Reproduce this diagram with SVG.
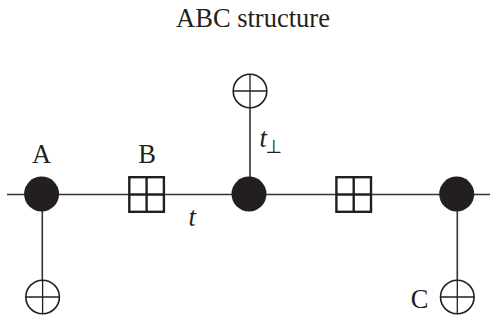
<svg xmlns="http://www.w3.org/2000/svg" width="490" height="321" viewBox="0 0 490 321">
<style>
text{font-family:"Liberation Serif","Times New Roman",serif;font-size:26.5px;fill:#231f20}
.it{font-style:italic}
.perp{font-family:"DejaVu Sans",sans-serif;font-size:19px}
.wire{stroke:#333;stroke-width:1.6;fill:none}
.dot{fill:#231f20}
.sq{fill:#fff;stroke:#231f20;stroke-width:2.4}
.sl{stroke:#231f20;stroke-width:2.4}
.cr{fill:#fff;stroke:#231f20;stroke-width:1.6}
.cl{stroke:#231f20;stroke-width:1.3}
</style>
<rect width="490" height="321" fill="#fff"/>
<defs>
<g id="oplus"><circle class="cr" r="16.8"/><path class="cl" d="M-16.8 0H16.8M0-16.8V16.8"/></g>
<g id="grid"><rect class="sq" x="-17.3" y="-17.3" width="34.6" height="34.6"/><path class="sl" d="M-17.3 0H17.3M0-17.3V17.3"/></g>
</defs>
<text x="253" y="27" text-anchor="middle">ABC structure</text>
<g id="connectors">
<path class="wire" d="M7 194.500H490M42.300 194.500V297M250 91V194.500M457.300 194.500V297"/>
</g>
<g id="node-a"><circle class="dot" cx="41.600" cy="194" r="17.500"/><text x="41.500" y="163" text-anchor="middle">A</text></g>
<g id="node-b"><use href="#grid" x="146.600" y="194.500"/><text x="147" y="163" text-anchor="middle">B</text></g>
<g id="node-mid"><circle class="dot" cx="249" cy="194" r="17.500"/></g>
<g id="node-b2"><use href="#grid" x="353.700" y="194.500"/></g>
<g id="node-right"><circle class="dot" cx="456.700" cy="194" r="17.500"/></g>
<g id="node-x1"><use href="#oplus" x="42.600" y="297"/></g>
<g id="node-x2"><use href="#oplus" x="250" y="91"/></g>
<g id="node-x3"><use href="#oplus" x="457.300" y="297"/><text x="419.500" y="308" text-anchor="middle">C</text></g>
<g id="labels">
<text class="it" x="188.500" y="226">t</text>
<text class="it" x="259.500" y="147">t</text>
<text class="perp" x="265.500" y="153">⊥</text>
</g>
</svg>
